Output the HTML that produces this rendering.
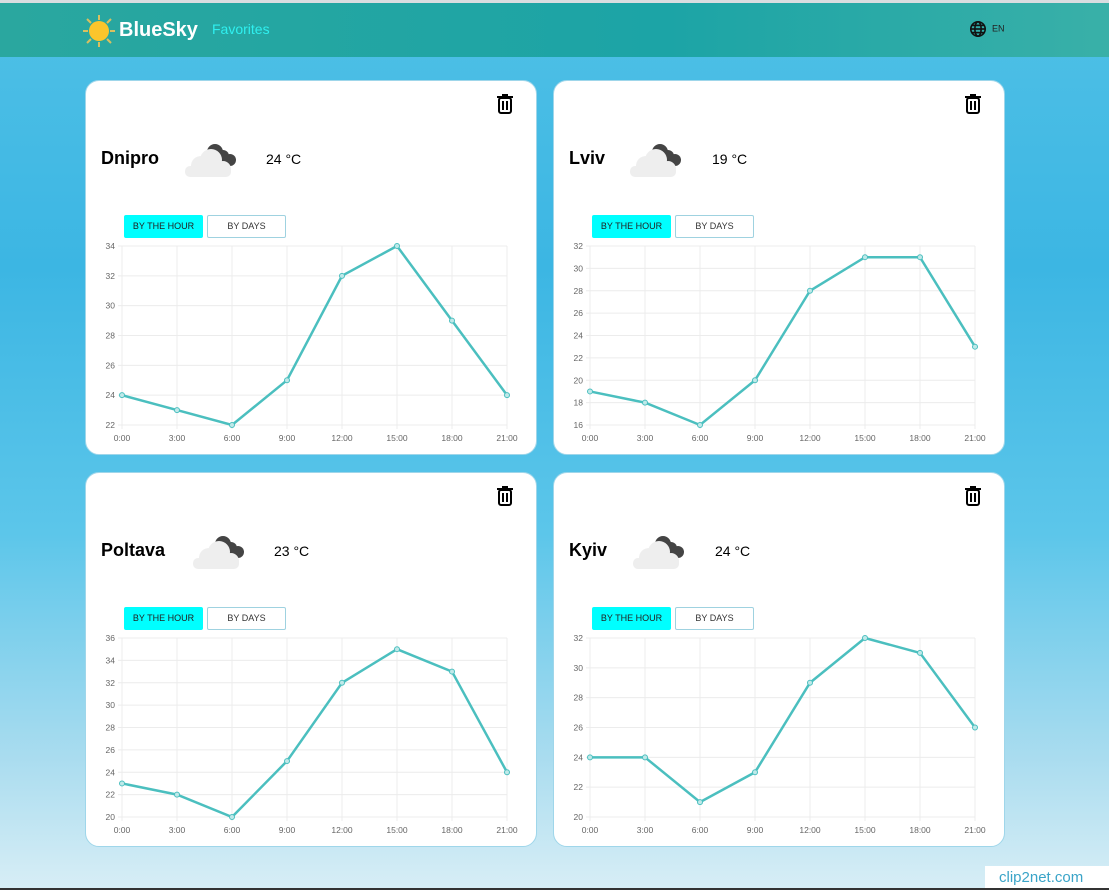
<!DOCTYPE html>
<html><head><meta charset="utf-8">
<style>
*{box-sizing:border-box;margin:0;padding:0}
body{width:1109px;height:890px;overflow:hidden;font-family:"Liberation Sans",sans-serif;background:linear-gradient(180deg,#4fc0e6 0%,#3cb6e3 30%,#5cc6ea 60%,#a9dcef 85%,#d8eef6 100%);position:relative}
#topline{position:absolute;left:0;top:0;width:1109px;height:3px;background:#d9dde0}
#header{position:absolute;left:0;top:3px;width:1109px;height:54px;background:linear-gradient(90deg,#2aa79f,#1ca4a6 60%,#39b0a8)}
.logo{position:absolute;left:82px;top:11px;width:34px;height:34px}
.brand{position:absolute;left:119px;top:16px;color:#fff;font-weight:bold;font-size:20px}
.fav{position:absolute;left:212px;top:18px;color:#2ff0f0;font-size:14px}
.lang{position:absolute;left:969px;top:17px;font-size:9px;color:#222}
.card{position:absolute;background:#fff;border-radius:14px;border:1px solid #9fd6ea;width:452px;height:375px}
.city{position:absolute;left:15px;top:67px;font-weight:bold;font-size:18px;color:#000}
.temp{position:absolute;top:70px;font-size:14px;color:#000}
.cloud{position:absolute;top:61px;width:56px;height:36px}
.trash{position:absolute;left:410px;top:13px;width:18px;height:20px}
.btn{position:absolute;top:134px;width:79px;height:23px;border:1px solid #9fd2e0;border-radius:2px;font-size:9px;text-align:center;line-height:21px;color:#333;background:#fff}
.btn.on{background:#00ffff;border-color:#00ffff;color:#222}
svg.chart{position:absolute;left:-1px;top:-1px}
#clip{position:absolute;left:985px;top:866px;width:124px;height:22px;background:#fff;color:#3aa4c8;font-size:15px;padding:3px 0 0 14px}
#bottomline{position:absolute;left:0;top:888px;width:1109px;height:2px;background:#333}
</style></head><body>
<div id="topline"></div>
<div id="header">
<svg class="logo" viewBox="0 0 34 34">
<g stroke="#d8c060" stroke-width="2"><line x1="17" y1="1" x2="17" y2="6"/><line x1="17" y1="28" x2="17" y2="33"/><line x1="1" y1="17" x2="6" y2="17"/><line x1="28" y1="17" x2="33" y2="17"/><line x1="5" y1="5" x2="9" y2="9"/><line x1="25" y1="25" x2="29" y2="29"/><line x1="29" y1="5" x2="25" y2="9"/><line x1="9" y1="25" x2="5" y2="29"/></g>
<circle cx="17" cy="17" r="10" fill="#fbc52c"/></svg>
<div class="brand">BlueSky</div>
<div class="fav">Favorites</div>
<div class="lang"><svg width="18" height="18" viewBox="0 0 20 20" style="vertical-align:middle" fill="none" stroke="#111" stroke-width="1.8"><circle cx="10" cy="10" r="8"/><ellipse cx="10" cy="10" rx="3.5" ry="8"/><line x1="2" y1="10" x2="18" y2="10"/><line x1="3.5" y1="6" x2="16.5" y2="6"/><line x1="3.5" y1="14" x2="16.5" y2="14"/></svg>&nbsp; EN</div>
</div>
<div id="cards"></div>
<div id="clip">clip2net.com</div>
<div id="bottomline"></div>
<script>
const hours=["0:00","3:00","6:00","9:00","12:00","15:00","18:00","21:00"];
const cities=["Dnipro","Lviv","Poltava","Kyiv"];
const temps=["24 °C","19 °C","23 °C","24 °C"];
const dnipro=[24,23,22,25,32,34,29,24];
const lviv=[19,18,16,20,28,31,31,23];
const poltava=[23,22,20,25,32,35,33,24];
const kyiv=[24,24,21,23,29,32,31,26];
const yMins=[22,16,20,20];
const yMaxs=[34,32,36,32];
const series=[dnipro,lviv,poltava,kyiv];
const cardPos=[[85,80],[553,80],[85,472],[553,472]];
const cloudX=[99,76,107,79];
const tempX=[180,158,188,161];
const NS="http://www.w3.org/2000/svg";
const root=document.getElementById('cards');
function mk(tag,attrs){const e=document.createElementNS(NS,tag);for(const k in attrs)e.setAttribute(k,attrs[k]);return e;}
cities.forEach((c,i)=>{
 const card=document.createElement('div');card.className='card';
 
 
 card.style.left=cardPos[i][0]+'px';card.style.top=cardPos[i][1]+'px';
 card.innerHTML=`<svg class="trash" viewBox="0 0 18 20"><g fill="none" stroke="#000" stroke-width="2"><line x1="1" y1="3" x2="17" y2="3"/><line x1="6" y1="1" x2="12" y2="1"/><rect x="3" y="4" width="12" height="15" rx="2"/><line x1="7" y1="7" x2="7" y2="16"/><line x1="11" y1="7" x2="11" y2="16"/></g></svg>
 <div class="city">${c}</div>
 <svg class="cloud" viewBox="0 0 56 36" style="left:${cloudX[i]}px"><g fill="#444"><circle cx="30" cy="10" r="8"/><circle cx="38" cy="14" r="6"/><circle cx="45" cy="18" r="6"/></g><g fill="#eeeeee"><circle cx="16" cy="24" r="10"/><circle cx="26" cy="18" r="11"/><rect x="0" y="24" width="46" height="11" rx="5"/><circle cx="38" cy="27" r="8"/></g></svg>
 <div class="temp" style="left:${tempX[i]}px">${temps[i]}</div>
 <div class="btn on" style="left:38px">BY THE HOUR</div>
 <div class="btn" style="left:121px">BY DAYS</div>`;
 root.appendChild(card);
 const svg=mk('svg',{width:452,height:375,class:'chart'});
 
 
 card.appendChild(svg);
 const L=37,R=422,T=166,B=345,ymin=yMins[i],ymax=yMaxs[i],data=series[i];
 const xs=k=>L+(R-L)*k/(hours.length-1);
 const ys=v=>B-(B-T)*(v-ymin)/(ymax-ymin);
 for(let v=ymin;v<=ymax;v+=2){
  const g=mk('line',{x1:L-4,x2:R,y1:ys(v),y2:ys(v),stroke:'#ececec'});
  
  
  svg.appendChild(g);
  const t=mk('text',{x:L-7,y:ys(v)+3,'text-anchor':'end','font-size':8.5,fill:'#666','font-family':'Liberation Sans'});
  t.textContent=v;
  
  
  svg.appendChild(t);
 }
 hours.forEach((h,k)=>{
  const g=mk('line',{x1:xs(k),x2:xs(k),y1:T,y2:B+4,stroke:'#ececec'});
  
  
  svg.appendChild(g);
  const t=mk('text',{x:xs(k),y:B+16,'text-anchor':'middle','font-size':8.5,fill:'#666','font-family':'Liberation Sans'});
  t.textContent=h;
  
  
  svg.appendChild(t);
 });
 const p=mk('polyline',{points:data.map((v,k)=>xs(k)+','+ys(v)).join(' '),fill:'none',stroke:'#4bbfbf','stroke-width':2.5});
 
 
 svg.appendChild(p);
 data.forEach((v,k)=>{
  const d=mk('circle',{cx:xs(k),cy:ys(v),r:2.5,fill:'#bfe9e9',stroke:'#4bbfbf','stroke-width':1});
  
  
  svg.appendChild(d);
 });
});
</script>
</body></html>
